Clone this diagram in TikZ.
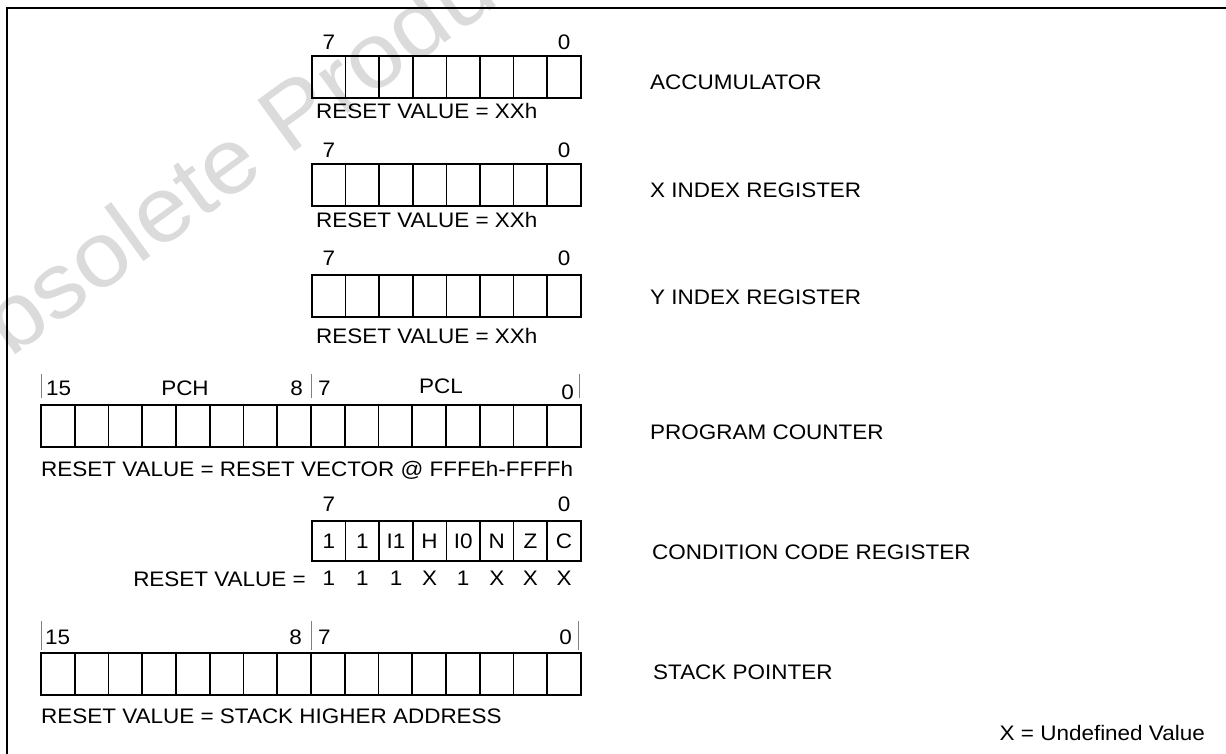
\documentclass[tikz,border=0pt]{standalone}
\usepackage{fontspec}
\setmainfont{Liberation Sans}[FakeStretch=1.07]
\usepackage{tikz}
\usetikzlibrary{positioning}
\tikzset{cell/.style={draw,line width=1.7pt,minimum width=33.6pt,minimum height=42pt,inner sep=0pt,outer sep=0pt,anchor=north west},
  wcell/.style={cell,minimum width=33.75pt},
  bit/.style={inner sep=0pt},
  regname/.style={anchor=west,inner sep=0pt},
  rst/.style={anchor=north west,inner sep=0pt},
  tick/.style={draw=black!50,line width=1pt}}

\begin{document}
\begin{tikzpicture}[x=1pt,y=-1pt,line join=miter,font=\fontsize{21}{25}\selectfont]
\useasboundingbox (0,0) rectangle (1226,754);
% --- watermark and frame
\begin{scope}
\clip (0,0) rectangle (1226,754);
\node[black!14,rotate=36,anchor=base west,inner sep=0pt,font=\fontsize{92}{92}\selectfont] (wmark) at (-52,404) {Obsolete Product(s)};
\end{scope}
\draw[line width=1.5pt] (7,760) -- (7,8) -- (1232,8);
% --- accumulator
\foreach \i in {0,...,7} \node[cell] (acc\i) at ({312+33.6*\i},56) {};
\node[bit,above=6pt of acc0] (accmsb) {7};
\node[bit,above=6pt of acc7] (acclsb) {0};
\node[rst,below right=5pt and 4pt of acc0.south west] (accrst) {RESET VALUE = XXh};
\node[regname] (accname) at (650,82) {ACCUMULATOR};
% --- x index
\foreach \i in {0,...,7} \node[cell] (xr\i) at ({312+33.6*\i},164) {};
\node[bit,above=6pt of xr0] (xrmsb) {7};
\node[bit,above=6pt of xr7] (xrlsb) {0};
\node[rst,below right=6pt and 4pt of xr0.south west] (xrrst) {RESET VALUE = XXh};
\node[regname] (xrname) at (650,190) {X INDEX REGISTER};
% --- y index
\foreach \i in {0,...,7} \node[cell] (yr\i) at ({312+33.6*\i},275) {};
\node[bit,above=9pt of yr0] (yrmsb) {7};
\node[bit,above=9pt of yr7] (yrlsb) {0};
\node[rst,below right=11pt and 4pt of yr0.south west] (yrrst) {RESET VALUE = XXh};
\node[regname] (yrname) at (650,297) {Y INDEX REGISTER};
% --- program counter
\foreach \i in {0,...,15} \node[wcell] (pc\i) at ({41+33.75*\i},405) {};
\draw[tick] ([yshift=7pt]pc0.north west) -- ([yshift=31pt]pc0.north west);
\draw[tick] ([yshift=7pt]pc7.north east) -- ([yshift=31pt]pc7.north east);
\draw[tick] ([yshift=7pt,xshift=-2pt]pc15.north east) -- ([yshift=31pt,xshift=-2pt]pc15.north east);
\node[bit,anchor=west] (pchi) at (46,388) {15};
\node[bit] (pch) at (185,388) {PCH};
\node[bit,anchor=east] (pcmid) at (303,388) {8};
\node[bit,anchor=west] (pclo) at (318,388) {7};
\node[bit] (pcl) at (441,386) {PCL};
\node[bit,anchor=east] (pcend) at (574,392) {0};
\node[rst,below right=14pt and 0pt of pc0.south west] (pcrst) {RESET VALUE = RESET VECTOR @ FFFEh-FFFFh};
\node[regname] (pcname) at (650,432) {PROGRAM COUNTER};
% --- condition code
\foreach \t [count=\i from 0] in {1,1,I1,H,I0,N,Z,C} \node[cell,minimum height=40pt] (cc\i) at ({312+33.6*\i},521) {\t};
\foreach \v [count=\i from 0] in {1,1,1,X,1,X,X,X} \node[bit,below=10pt of cc\i] (ccv\i) {\v};
\node[bit,above=9pt of cc0] (ccmsb) {7};
\node[bit,above=9pt of cc7] (cclsb) {0};
\node[bit,anchor=east] (ccrst) at (306,579) {RESET VALUE =};
\node[regname] (ccname) at (652,552) {CONDITION CODE REGISTER};
% --- stack pointer
\foreach \i in {0,...,15} \node[wcell] (sp\i) at ({41+33.75*\i},653) {};
\draw[tick] ([yshift=3pt]sp0.north west) -- ([yshift=32pt]sp0.north west);
\draw[tick] ([yshift=3pt]sp7.north east) -- ([yshift=32pt]sp7.north east);
\draw[tick] ([yshift=3pt,xshift=-3pt]sp15.north east) -- ([yshift=32pt,xshift=-3pt]sp15.north east);
\node[bit,anchor=west] (sphi) at (45,637) {15};
\node[bit,anchor=east] (spmid) at (302,637) {8};
\node[bit,anchor=west] (splo) at (318,637) {7};
\node[bit,anchor=east] (spend) at (572,637) {0};
\node[rst,below right=14pt and 0pt of sp0.south west] (sprst) {RESET VALUE = STACK HIGHER ADDRESS};
\node[regname] (spname) at (653,672) {STACK POINTER};
\node[bit,anchor=east] (undef) at (1205,733) {X = Undefined Value};
\end{tikzpicture}
\end{document}
